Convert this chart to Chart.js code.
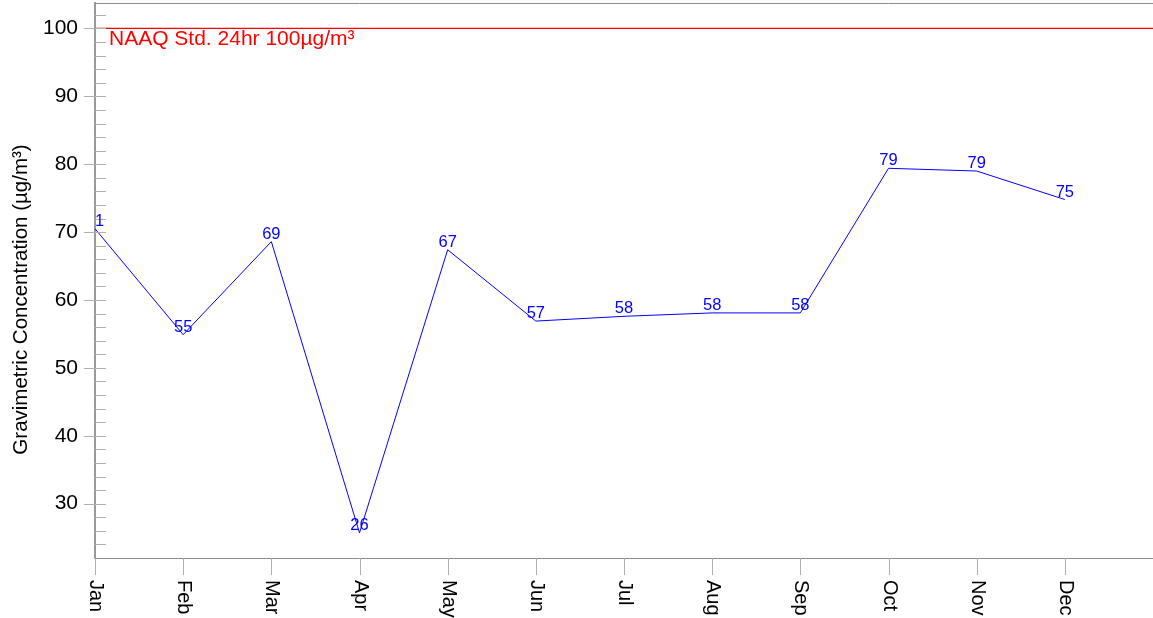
<!DOCTYPE html>
<html>
<head>
<meta charset="utf-8">
<script src="https://cdn.jsdelivr.net/npm/chart.js@4"></script>
<style>
  html, body { margin: 0; padding: 0; background: #fff; }
  #wrap { width: 1153px; height: 618px; }
</style>
</head>
<body>
<div id="wrap"><canvas id="chart"></canvas></div>
<script>
// data
const months = ['Jan', 'Feb', 'Mar', 'Apr', 'May', 'Jun', 'Jul', 'Aug', 'Sep', 'Oct', 'Nov', 'Dec'];
const concentration = [70.5, 54.9, 68.6, 25.7, 67.4, 56.9, 57.6, 58.1, 58.1, 79.4, 79.0, 74.8];
const yMajorTicks = [30, 40, 50, 60, 70, 80, 90, 100];
const standardValue = 100;
const standardLabel = 'NAAQ Std. 24hr 100µg/m³';
const yTitle = 'Gravimetric Concentration (µg/m³)';

const FONT = "'Liberation Sans', Arial, sans-serif";
const AXIS_GRAY = '#8c8c8c';

// extra drawing: top border, tick marks, rotated month labels, value labels
const decorations = {
  id: 'decorations',
  afterDatasetsDraw(chart) {
    const ctx = chart.ctx;
    const area = chart.chartArea;
    const xs = chart.scales.x;
    const ys = chart.scales.y;
    ctx.save();

    // top frame line
    ctx.strokeStyle = AXIS_GRAY;
    ctx.lineWidth = 1;
    ctx.beginPath();
    ctx.moveTo(area.left, area.top + 0.5);
    ctx.lineTo(area.right, area.top + 0.5);
    ctx.stroke();

    // y tick marks: majors cross the axis, minors inside
    ctx.strokeStyle = '#b0b0b0';
    ys.ticks.forEach(t => {
      const y = Math.round(ys.getPixelForValue(t.value)) + 0.5;
      const major = yMajorTicks.includes(t.value);
      ctx.beginPath();
      ctx.moveTo(major ? area.left - 11 : area.left, y);
      ctx.lineTo(area.left + 11, y);
      ctx.stroke();
    });

    // y title
    ctx.save();
    ctx.translate(21, (area.top + area.bottom) / 2 + 19);
    ctx.rotate(-Math.PI / 2);
    ctx.fillStyle = '#000';
    ctx.font = '20.5px ' + FONT;
    ctx.textAlign = 'center';
    ctx.textBaseline = 'middle';
    ctx.fillText(yTitle, 0, 0);
    ctx.restore();

    // x tick marks + rotated labels
    months.forEach((m, i) => {
      const x = Math.round(xs.getPixelForValue(i)) + 0.5;
      ctx.strokeStyle = '#b0b0b0';
      ctx.beginPath();
      ctx.moveTo(x, area.bottom);
      ctx.lineTo(x, area.bottom + 17);
      ctx.stroke();
      ctx.save();
      ctx.translate(x, area.bottom + 22);
      ctx.rotate(Math.PI / 2);
      ctx.fillStyle = '#000';
      ctx.font = '20px ' + FONT;
      ctx.textAlign = 'left';
      ctx.textBaseline = 'middle';
      ctx.fillText(m, 0, 0);
      ctx.restore();
    });

    // clip to plot area for the in-chart texts
    ctx.beginPath();
    ctx.rect(area.left + 1, area.top, area.right - area.left, area.bottom - area.top);
    ctx.clip();

    // standard label
    ctx.fillStyle = '#ff0000';
    ctx.font = '21px ' + FONT;
    ctx.textAlign = 'left';
    ctx.textBaseline = 'alphabetic';
    ctx.fillText(standardLabel, area.left + 14, ys.getPixelForValue(standardValue) + 17);

    // value labels
    ctx.fillStyle = '#0000ff';
    ctx.font = '16.5px ' + FONT;
    ctx.textAlign = 'center';
    ctx.textBaseline = 'alphabetic';
    concentration.forEach((v, i) => {
      ctx.fillText(String(Math.round(v)), xs.getPixelForValue(i), ys.getPixelForValue(v) - 3);
    });

    ctx.restore();
  }
};

const cfg = {
  type: 'line',
  data: {
    datasets: [
      {
        label: 'Concentration',
        data: concentration.map((v, i) => ({ x: i, y: v })),
        borderColor: '#0000ff',
        borderWidth: 1,
        pointRadius: 0,
        tension: 0
      },
      {
        label: 'Standard',
        data: [{ x: 0, y: standardValue }, { x: months.length, y: standardValue }],
        borderColor: '#ff0000',
        borderWidth: 1.3,
        pointRadius: 0
      }
    ]
  },
  options: {
    responsive: true,
    maintainAspectRatio: false,
    animation: false,
    events: [],
    layout: { padding: { top: 3, right: 0, left: 0, bottom: 0 } },
    plugins: {
      legend: { display: false },
      tooltip: { enabled: false }
    },
    scales: {
      x: {
        type: 'linear',
        min: 0,
        max: months.length,
        grid: { display: false, drawTicks: false },
        border: { display: true, color: AXIS_GRAY, width: 1 },
        ticks: { display: false },
        afterFit(scale) {
          scale.height = 60;
          scale.paddingLeft = 0;
          scale.paddingRight = 0;
        }
      },
      y: {
        min: 22,
        max: 103.75,
        grid: { display: false, drawTicks: false },
        border: { display: true, color: '#999999', width: 2 },
        afterBuildTicks(scale) {
          const ticks = [];
          for (let v = 24; v <= 102; v += 2) ticks.push({ value: v });
          scale.ticks = ticks;
        },
        ticks: {
          autoSkip: false,
          padding: 17,
          color: '#000',
          font: { family: FONT, size: 21 },
          callback: v => (yMajorTicks.includes(v) ? String(v) : '')
        },
        afterFit(scale) {
          scale.width = 95;
          scale.paddingTop = 0;
          scale.paddingBottom = 0;
        }
      }
    }
  },
  plugins: [decorations]
};

new Chart(document.getElementById('chart').getContext('2d'), cfg);
</script>
</body>
</html>
